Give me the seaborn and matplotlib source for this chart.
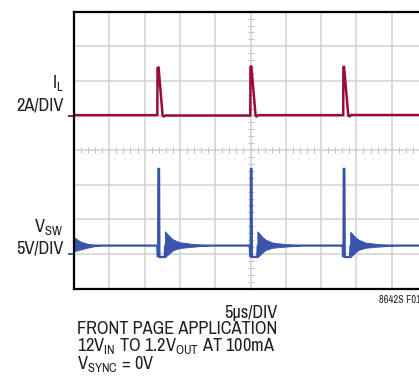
import numpy as np
import pandas as pd
import seaborn as sns
import matplotlib
matplotlib.use("Agg")
import matplotlib.pyplot as plt

# scope capture, time in us (5us/DIV), inductor current in A (2A/DIV), switch node in V (5V/DIV)
il_t = [0.0, 11.80, 11.83, 11.98, 12.55, 12.70, 12.95,
        24.97, 25.00, 25.12, 25.72, 25.85, 26.10,
        38.13, 38.16, 38.25, 38.85, 39.00, 39.25, 50.0]
il_a = [0.02, 0.02, 2.74, 2.78, 0.00, -0.06, 0.00,
        0.00, 2.82, 2.84, 0.00, -0.06, 0.02,
        0.02, 2.80, 2.82, 0.00, -0.05, 0.03, 0.03]

vsw_t = [0.0,
         11.80, 11.85, 11.92, 11.95, 12.05, 12.10, 12.85, 12.92,
         24.90, 24.95, 25.02, 25.05, 25.15, 25.20, 25.95, 26.02,
         38.05, 38.10, 38.17, 38.20, 38.30, 38.35, 39.10, 39.17,
         50.0]
vsw_v = [1.2,
         1.2, -0.35, -0.35, 12.3, 12.3, -0.45, -0.45, 1.2,
         1.2, -0.35, -0.35, 12.3, 12.3, -0.45, -0.45, 1.2,
         1.2, -0.35, -0.35, 12.3, 12.3, -0.45, -0.45, 1.2,
         1.2]

# ringing bursts after each switching edge (envelope, drawn as a band)
ring_id = [0] * 5 + [1] * 7 + [2] * 7 + [3] * 7
ring_t = [0.0, 0.85, 1.80, 2.80, 3.60,
          12.87, 13.58, 14.05, 14.99, 16.41, 17.83, 18.95,
          25.97, 26.68, 27.15, 28.09, 29.51, 30.93, 32.05,
          39.12, 39.83, 40.30, 41.24, 42.66, 44.08, 45.20]
ring_hi = [2.40, 1.82, 1.49, 1.30, 1.22,
           3.27, 2.50, 2.07, 1.68, 1.49, 1.34, 1.22,
           3.27, 2.45, 2.05, 1.65, 1.47, 1.33, 1.22,
           3.20, 2.45, 2.05, 1.65, 1.47, 1.33, 1.22]
ring_lo = [0.38, 0.62, 0.87, 1.10, 1.18,
           -0.50, 0.15, 0.55, 0.85, 1.00, 1.12, 1.18,
           -0.50, 0.18, 0.58, 0.88, 1.02, 1.12, 1.18,
           -0.48, 0.18, 0.58, 0.88, 1.02, 1.12, 1.18]

RED = "#9b0b38"
BLUE = "#3954a8"
TXT = "#231f20"
GRID = "#d2d2d2"

# screen positions of the two channel grounds, in divisions
il_zero, il_scale = 1.0, 2.0
vsw_zero, vsw_scale = -3.0, 5.0

df_il = pd.DataFrame({"t": il_t, "y": il_zero + np.array(il_a) / il_scale})
df_vsw = pd.DataFrame({"t": vsw_t, "y": vsw_zero + np.array(vsw_v) / vsw_scale})
df_ring = pd.DataFrame({"id": ring_id, "t": ring_t,
                        "hi": vsw_zero + np.array(ring_hi) / vsw_scale,
                        "lo": vsw_zero + np.array(ring_lo) / vsw_scale})

sns.set_style("white")
plt.rcParams["font.family"] = ["Archivo Narrow", "DejaVu Sans"]
plt.rcParams["font.stretch"] = "condensed"

fig = plt.figure(figsize=(4.19, 3.89), dpi=100)
ax = fig.add_axes([74 / 419, 1 - 288.5 / 389, 353 / 419, 276.8 / 389])

sns.lineplot(data=df_il, x="t", y="y", ax=ax, color=RED, lw=1.8,
             sort=False, estimator=None, zorder=4)
sns.lineplot(data=df_vsw, x="t", y="y", ax=ax, color=BLUE, lw=1.6,
             sort=False, estimator=None, zorder=4)
for _, g in df_ring.groupby("id"):
    ax.fill_between(g["t"], g["lo"], g["hi"], color=BLUE, lw=0.6, zorder=4)

ax.set_xlim(0, 50)
ax.set_ylim(-4, 4)
ax.set_xticks(np.arange(0, 51, 5))
ax.set_yticks(np.arange(-4, 5, 1))
ax.grid(True, color=GRID, lw=1.1)
ax.set_axisbelow(True)
ax.tick_params(length=0, labelleft=False, labelbottom=False)
ax.set_xlabel("")
ax.set_ylabel("")
for s in ["left", "top", "bottom"]:
    ax.spines[s].set_visible(True)
    ax.spines[s].set_color("black")
    ax.spines[s].set_linewidth(1.6)
    ax.spines[s].set_zorder(6)

# graticule ticks on the centre lines
cx = ax.secondary_xaxis(0.5)
cx.set_xticks(np.arange(0, 51, 1))
cx.tick_params(direction="inout", length=4, width=0.8, color="#c0c0c0",
               labeltop=False, labelbottom=False)
cy = ax.secondary_yaxis(0.5)
cy.set_yticks(np.arange(-4, 4.01, 0.2))
cy.tick_params(direction="inout", length=4, width=0.8, color="#c0c0c0",
               labelleft=False, labelright=False)
for sec in (cx, cy):
    for sp in sec.spines.values():
        sp.set_visible(False)

# channel ground markers
for level, col in [(il_zero, RED), (vsw_zero, BLUE)]:
    m = ax.secondary_yaxis("left")
    m.set_yticks([level])
    m.tick_params(direction="out", length=4.5, width=1.3, color=col, labelleft=False)
    for sp in m.spines.values():
        sp.set_visible(False)

fs = 13.2
fig.text(63.5 / 419, 1 - 88 / 389, r"I$_\mathregular{L}$", ha="right", va="baseline", fontsize=fs, color=TXT)
fig.text(63.5 / 419, 1 - 110 / 389, "2A/DIV", ha="right", va="baseline", fontsize=fs, color=TXT)
fig.text(63.5 / 419, 1 - 231.5 / 389, r"V$_\mathregular{SW}$", ha="right", va="baseline", fontsize=fs, color=TXT)
fig.text(63.5 / 419, 1 - 253.3 / 389, "5V/DIV", ha="right", va="baseline", fontsize=fs, color=TXT)
fig.text(251 / 419, 1 - 318.3 / 389, "5µs/DIV", ha="center", va="baseline", fontsize=fs, color=TXT)
fig.text(379 / 419, 1 - 303 / 389, "8642S F01", ha="left", va="baseline", fontsize=7.5, color=TXT)
fig.text(77 / 419, 1 - 334.5 / 389, "FRONT PAGE APPLICATION", ha="left", va="baseline", fontsize=fs, color=TXT)
fig.text(77 / 419, 1 - 351.5 / 389, r"12V$_\mathregular{IN}$ TO 1.2V$_\mathregular{OUT}$ AT 100mA",
         ha="left", va="baseline", fontsize=fs, color=TXT)
fig.text(77 / 419, 1 - 368.5 / 389, r"V$_\mathregular{SYNC}$ = 0V", ha="left", va="baseline", fontsize=fs, color=TXT)

fig.savefig("out.png", dpi=100)
